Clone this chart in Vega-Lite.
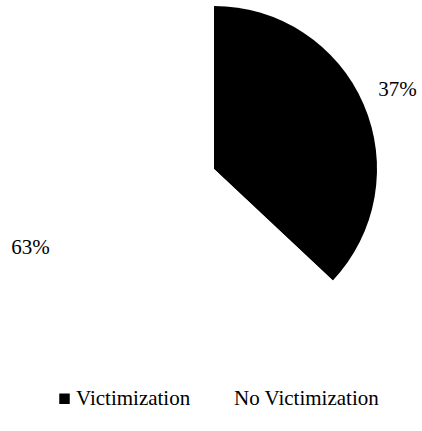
{
  "$schema": "https://vega.github.io/schema/vega-lite/v6.json",
  "autosize": "none",
  "width": 422,
  "height": 326,
  "padding": {"left": 3, "top": 6, "right": 0, "bottom": 99},
  "background": "white",
  "config": {"font": "Times New Roman, Liberation Serif, serif", "legend": {"labelFont": "Times New Roman, Liberation Serif, serif"}},
  "data": {"values": [
    {"category": "Victimization", "value": 37, "label": "37%"},
    {"category": "No Victimization", "value": 63, "label": "63%"}
  ]},
  "encoding": {
    "theta": {"field": "value", "type": "quantitative", "stack": true},
    "order": {"field": "category", "sort": "descending"}
  },
  "layer": [
    {
      "mark": {"type": "arc", "radius": 163, "stroke": null},
      "encoding": {
        "color": {
          "field": "category", "type": "nominal",
          "scale": {"domain": ["Victimization", "No Victimization"], "range": ["#000000", "#ffffff"]},
          "legend": {
            "title": null, "orient": "none", "legendX": 51, "legendY": 382, "direction": "horizontal",
            "symbolType": "square", "symbolSize": 110, "symbolStrokeWidth": 0,
            "labelFont": "Times New Roman, Liberation Serif, serif", "labelFontSize": 21, "labelColor": "#000000",
            "labelOffset": 1, "columnPadding": 21, "labelLimit": 300
          }
        }
      }
    },
    {
      "mark": {"type": "text", "radius": 200, "font": "Times New Roman, Liberation Serif, serif", "fontSize": 21, "color": "#000000"},
      "encoding": {"text": {"field": "label", "type": "nominal"}}
    }
  ]
}
